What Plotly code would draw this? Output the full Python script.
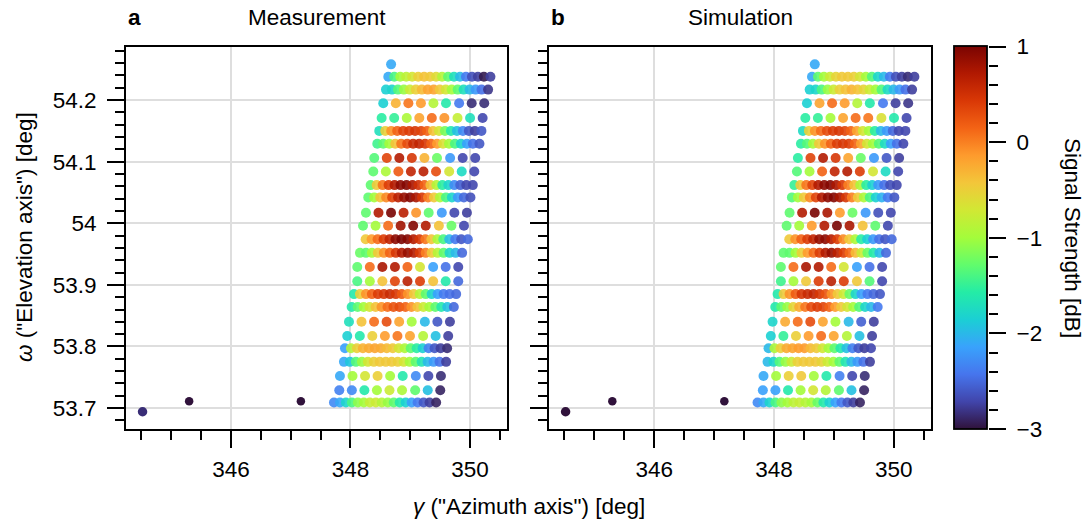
import plotly.graph_objects as go

W, H = 1086, 524

# ---------------- data ----------------
# scan rows, top to bottom
ROW_ELEV = [54.238, 54.217, 54.195, 54.171, 54.150, 54.129, 54.106, 54.084,
            54.062, 54.042, 54.017, 53.996, 53.974, 53.952, 53.929, 53.906,
            53.885, 53.864, 53.840, 53.817, 53.797, 53.775, 53.752, 53.729,
            53.709]
ROW_START = [348.633, 348.594, 348.549, 348.522, 348.482, 348.449, 348.398, 348.382,
             348.338, 348.298, 348.259, 348.210, 348.254, 348.159, 348.114, 348.114,
             348.059, 348.020, 347.975, 347.946, 347.908, 347.891, 347.824, 347.813,
             347.724]
ROW_KIND = ["D", "D", "S", "S", "D", "D", "S", "S", "D", "D", "S", "S", "D",
            "D", "S", "S", "D", "D", "S", "S", "D", "D", "S", "S", "D"]
DENSE_OFFSETS = [0.00, 0.10, 0.20, 0.30, 0.40, 0.50, 0.60, 0.70, 0.80,
                 0.90, 1.00, 1.10, 1.20, 1.30, 1.40, 1.50, 1.60, 1.71]
SPARSE_OFFSETS = [0.00, 0.21, 0.42, 0.63, 0.84, 1.05, 1.27, 1.48, 1.69]

MEAS = [
    [-2.1, -1.4, -1.0, -0.85, -0.7, -0.5, -0.4, -0.45, -0.6, -0.9, -1.3, -1.7, -2.0, -2.4, -2.65, -2.75, -2.95, -2.75],
    [-1.85, -1.8, -1.35, -1.05, -0.75, -0.5, -0.35, -0.2, -0.2, -0.45, -0.7, -1.0, -1.3, -1.7, -2.0, -2.2, -2.45, -2.8],
    [-1.85, -0.3, 0.05, -0.15, -0.9, -1.6, -2.4, -2.85, -2.85],
    [-1.55, -1.5, -0.95, -0.2, 0.1, -0.1, -0.8, -1.7, -2.7],
    [-1.7, -0.5, -0.1, 0.15, 0.35, 0.4, 0.45, 0.35, 0.15, -0.4, -0.7, -1.2, -1.6, -1.95, -2.3, -2.6, -2.75, -2.6],
    [-1.45, -1.3, -1.0, -0.4, 0.05, 0.3, 0.55, 0.6, 0.45, 0.15, -0.15, -0.65, -1.0, -1.4, -1.8, -2.15, -2.45, -2.6],
    [-1.35, 0.35, 0.7, 0.45, -0.3, -1.25, -2.2, -2.7, -2.7],
    [-1.3, -0.95, 0.2, 0.6, 0.65, 0.3, -0.7, -1.75, -2.7],
    [-1.3, -0.45, 0.05, 0.4, 0.7, 0.9, 0.95, 0.75, 0.5, 0.15, -0.4, -0.9, -1.55, -1.8, -2.3, -2.55, -2.7, -2.7],
    [-1.3, -1.0, -0.4, -0.05, 0.35, 0.65, 0.85, 0.95, 0.75, 0.45, 0.0, -0.45, -0.95, -1.4, -1.8, -2.2, -2.5, -2.65],
    [-1.3, 0.7, 1.0, 0.65, -0.1, -1.3, -2.2, -2.7, -2.75],
    [-1.3, -1.0, 0.1, 0.8, 0.95, 0.7, -0.4, -1.25, -2.7],
    [-0.45, -0.15, 0.1, 0.4, 0.6, 0.9, 1.0, 0.95, 0.7, 0.45, 0.05, -0.4, -0.95, -1.4, -2.0, -2.4, -2.6, -2.5],
    [-1.25, -1.3, -1.0, -0.45, -0.1, 0.15, 0.45, 0.7, 0.85, 0.7, 0.4, 0.0, -0.45, -0.9, -1.3, -1.8, -2.0, -2.5],
    [-1.3, 0.1, 0.75, 0.7, 0.15, -0.7, -2.15, -2.45, -2.7],
    [-1.4, -1.0, -0.4, 0.35, 0.65, 0.4, -0.4, -1.6, -2.5],
    [-1.6, -0.5, -0.1, 0.15, 0.4, 0.45, 0.55, 0.45, 0.2, -0.1, -0.45, -0.9, -1.3, -1.8, -2.15, -2.4, -2.45, -2.5],
    [-1.6, -1.3, -1.0, -0.7, -0.4, -0.1, 0.1, 0.25, 0.3, 0.15, -0.1, -0.4, -0.75, -1.0, -1.3, -1.6, -1.95, -2.5],
    [-1.7, -0.4, 0.1, 0.3, -0.2, -1.0, -2.0, -2.6, -2.75],
    [-1.85, -1.6, -0.5, -0.15, 0.05, -0.2, -0.9, -1.95, -2.75],
    [-2.15, -0.9, -0.5, -0.3, -0.25, -0.2, -0.25, -0.35, -0.45, -0.7, -0.95, -1.3, -1.55, -1.85, -2.35, -2.6, -2.75, -2.85],
    [-2.1, -1.9, -1.35, -1.05, -0.7, -0.5, -0.45, -0.45, -0.45, -0.5, -0.7, -1.0, -1.3, -1.65, -2.0, -2.2, -2.45, -2.75],
    [-2.1, -1.0, -0.7, -0.5, -1.0, -1.6, -2.3, -2.7, -2.85],
    [-2.35, -2.3, -1.6, -1.0, -0.75, -0.95, -1.3, -1.95, -2.9],
    [-2.3, -2.1, -1.8, -1.4, -1.1, -1.0, -0.8, -0.75, -0.9, -1.05, -1.3, -1.6, -1.85, -2.15, -2.4, -2.6, -2.75, -2.9],
]

SIM = [
    [-2.1, -1.3, -1.0, -0.75, -0.55, -0.45, -0.45, -0.5, -0.7, -1.0, -1.35, -1.8, -2.0, -2.4, -2.65, -2.75, -2.85, -2.75],
    [-1.85, -1.8, -1.4, -1.05, -0.75, -0.5, -0.4, -0.3, -0.4, -0.55, -0.75, -1.0, -1.35, -1.75, -2.0, -2.2, -2.45, -2.75],
    [-1.85, -0.2, 0.1, -0.15, -0.9, -1.6, -2.4, -2.75, -2.8],
    [-1.55, -1.5, -1.0, -0.2, 0.1, 0.05, -0.65, -1.6, -2.7],
    [-1.75, -0.5, -0.1, 0.1, 0.3, 0.4, 0.45, 0.35, 0.15, -0.2, -0.7, -1.0, -1.55, -2.0, -2.2, -2.5, -2.7, -2.7],
    [-1.55, -1.35, -1.0, -0.45, -0.1, 0.15, 0.4, 0.45, 0.4, 0.15, -0.2, -0.7, -1.0, -1.35, -1.75, -2.15, -2.45, -2.7],
    [-1.55, 0.35, 0.7, 0.45, -0.2, -1.25, -2.2, -2.6, -2.75],
    [-1.35, -1.0, 0.15, 0.6, 0.7, 0.4, -0.7, -1.75, -2.7],
    [-1.5, -0.45, 0.05, 0.35, 0.7, 0.9, 0.95, 0.75, 0.45, 0.0, -0.4, -0.95, -1.55, -1.85, -2.2, -2.45, -2.65, -2.7],
    [-1.35, -1.0, -0.45, -0.05, 0.35, 0.7, 0.9, 0.95, 0.75, 0.45, 0.0, -0.45, -0.95, -1.4, -1.85, -2.05, -2.4, -2.6],
    [-1.3, 0.7, 1.0, 0.75, -0.15, -1.25, -2.2, -2.65, -2.7],
    [-1.3, -1.0, -0.15, 0.7, 1.0, 0.75, -0.4, -1.3, -2.7],
    [-0.45, -0.1, 0.15, 0.4, 0.6, 0.85, 0.9, 0.7, 0.4, -0.05, -0.45, -0.95, -1.55, -1.85, -2.2, -2.45, -2.6, -2.5],
    [-1.3, -1.3, -1.0, -0.5, -0.15, 0.1, 0.4, 0.7, 0.85, 0.65, 0.4, 0.1, -0.35, -0.75, -1.25, -1.6, -2.0, -2.5],
    [-1.3, 0.1, 0.75, 0.7, 0.1, -0.7, -2.15, -2.45, -2.7],
    [-1.45, -1.0, -0.45, 0.4, 0.65, 0.4, -0.45, -1.35, -2.7],
    [-1.6, -0.45, -0.1, 0.2, 0.45, 0.55, 0.6, 0.45, 0.25, -0.1, -0.45, -0.75, -1.25, -1.8, -2.15, -2.4, -2.5, -2.6],
    [-1.6, -1.3, -1.05, -0.55, -0.25, 0.05, 0.3, 0.4, 0.35, 0.15, -0.15, -0.45, -0.7, -1.0, -1.35, -1.8, -2.0, -2.4],
    [-1.8, -0.25, 0.1, 0.3, -0.2, -1.0, -2.0, -2.55, -2.75],
    [-1.85, -1.5, -0.5, -0.15, 0.1, -0.2, -0.9, -1.95, -2.75],
    [-2.0, -0.95, -0.5, -0.25, -0.2, -0.15, -0.15, -0.35, -0.45, -0.7, -1.0, -1.3, -1.6, -1.95, -2.35, -2.6, -2.75, -2.7],
    [-2.0, -1.8, -1.35, -1.05, -0.75, -0.5, -0.45, -0.45, -0.45, -0.55, -0.75, -1.0, -1.3, -1.65, -2.0, -2.2, -2.45, -2.75],
    [-2.1, -1.0, -0.5, -0.45, -1.0, -1.6, -2.35, -2.7, -2.85],
    [-2.15, -2.15, -1.6, -1.0, -0.7, -0.9, -1.3, -1.95, -2.9],
    [-2.3, -2.1, -1.8, -1.4, -1.1, -1.0, -0.85, -0.8, -0.9, -1.0, -1.25, -1.6, -1.85, -2.15, -2.4, -2.6, -2.75, -2.9],
]

# isolated points
TOP_AZ = [348.68]
TOP_EL = [54.258]
TOP_MEAS = [-2.1]
TOP_SIM = [-2.1]
OUT_AZ = [344.52, 345.30, 347.17]
OUT_EL = [53.694, 53.711, 53.711]
OUT_MEAS = [-2.85, -3.0, -3.0]
OUT_SIM = [-3.0, -3.0, -3.0]

X_RANGE = [344.243, 350.62]
Y_RANGE = [53.666, 54.287]
C_RANGE = [-3, 1]

FONT = "Liberation Sans, Arial, Helvetica, sans-serif"
FS = 22.5


def grid_points(values):
    xs, ys, cs = [], [], []
    for elev, start, kind, row in zip(ROW_ELEV, ROW_START, ROW_KIND, values):
        offs = DENSE_OFFSETS if kind == "D" else SPARSE_OFFSETS
        for off, v in zip(offs, row):
            xs.append(start + off)
            ys.append(elev)
            cs.append(v)
    return xs, ys, cs


fig = go.Figure()

cbar = dict(
    x=954 / W, xanchor="left", y=(H - 429) / H, yanchor="bottom",
    len=(429 - 46.5) / H, lenmode="fraction", thickness=33, thicknessmode="pixels",
    xpad=0, ypad=0, outlinewidth=1.8, outlinecolor="black",
    ticks="", showticklabels=False,
)

for i, (vals, top, outv) in enumerate([(MEAS, TOP_MEAS, OUT_MEAS), (SIM, TOP_SIM, OUT_SIM)]):
    xa = "x" if i == 0 else "x2"
    ya = "y" if i == 0 else "y2"
    fig.add_trace(go.Scatter(
        x=OUT_AZ, y=OUT_EL, mode="markers", xaxis=xa, yaxis=ya,
        marker=dict(size=[9.5, 8.5, 8.5], color=outv, colorscale="Turbo", opacity=1,
                    cmin=C_RANGE[0], cmax=C_RANGE[1], line=dict(width=0)),
        showlegend=False, hoverinfo="skip"))
    gx, gy, gc = grid_points(vals)
    fig.add_trace(go.Scatter(
        x=gx + TOP_AZ, y=gy + TOP_EL, mode="markers", xaxis=xa, yaxis=ya,
        marker=dict(size=10, color=gc + top, colorscale="Turbo", opacity=0.9,
                    cmin=C_RANGE[0], cmax=C_RANGE[1], line=dict(width=0),
                    showscale=(i == 0), colorbar=cbar),
        showlegend=False, hoverinfo="skip"))

# dummy trace to carry the colorbar tick axis
fig.add_trace(go.Scatter(x=[None], y=[None], xaxis="x2", yaxis="y3",
                         showlegend=False, hoverinfo="skip"))

ydom = [(H - 429) / H, (H - 46.5) / H]
common_x = dict(
    range=X_RANGE, dtick=2, tick0=346, ticks="outside", ticklen=17, tickwidth=1.6,
    tickcolor="black", showline=True, linewidth=2, linecolor="black", mirror=True,
    showgrid=True, gridcolor="#dedede", gridwidth=1.5, zeroline=False,
    minor=dict(dtick=0.5, tick0=346, ticks="outside", ticklen=9, tickwidth=1.6,
               tickcolor="black", showgrid=False),
    tickfont=dict(family=FONT, size=FS, color="black"), ticklabelstandoff=2,
)
common_y = dict(
    range=Y_RANGE, dtick=0.1, tick0=53.7, ticks="outside", ticklen=17, tickwidth=1.6,
    tickcolor="black", showline=True, linewidth=2, linecolor="black", mirror=True,
    showgrid=True, gridcolor="#dedede", gridwidth=1.5, zeroline=False, domain=ydom,
    minor=dict(dtick=0.02, tick0=53.7, ticks="outside", ticklen=9, tickwidth=1.6,
               tickcolor="black", showgrid=False),
    tickfont=dict(family=FONT, size=FS, color="black"), ticklabelstandoff=6,
)

fig.update_layout(
    width=W, height=H, margin=dict(l=0, r=0, t=0, b=0, autoexpand=False),
    paper_bgcolor="white", plot_bgcolor="white",
    font=dict(family=FONT, size=FS, color="black"),
    xaxis=dict(common_x, domain=[126 / W, 507 / W], anchor="y"),
    xaxis2=dict(common_x, domain=[549 / W, 931 / W], anchor="y2"),
    yaxis=dict(common_y, anchor="x"),
    yaxis2=dict(common_y, anchor="x2", showticklabels=False),
    yaxis3=dict(range=C_RANGE, overlaying="y2", anchor="free", position=988 / W,
                side="right", dtick=1, tick0=-3, ticks="outside", ticklen=17,
                tickwidth=1.6, tickcolor="black", showline=False, showgrid=False,
                zeroline=False,
                minor=dict(dtick=0.2, tick0=-3, ticks="outside", ticklen=9,
                           tickwidth=1.6, tickcolor="black", showgrid=False),
                tickfont=dict(family=FONT, size=FS, color="black"), ticklabelstandoff=6),
)

ann = [
    dict(text="<b>a</b>", x=126 / W, y=(H - 17) / H, xanchor="left", yanchor="middle"),
    dict(text="Measurement", x=316.5 / W, y=(H - 17) / H, xanchor="center", yanchor="middle"),
    dict(text="<b>b</b>", x=549 / W, y=(H - 17) / H, xanchor="left", yanchor="middle"),
    dict(text="Simulation", x=740 / W, y=(H - 17) / H, xanchor="center", yanchor="middle"),
    dict(text='<i>γ</i> ("Azimuth axis") [deg]', x=529 / W, y=(H - 506) / H,
         xanchor="center", yanchor="middle"),
    dict(text='<i>ω</i> ("Elevation axis") [deg]', x=25 / W, y=(H - 237) / H,
         xanchor="center", yanchor="middle", textangle=-90),
    dict(text="Signal Strength [dB]", x=1073 / W, y=(H - 238) / H,
         xanchor="center", yanchor="middle", textangle=90),
]
for a in ann:
    a.update(xref="paper", yref="paper", showarrow=False,
             font=dict(family=FONT, size=FS, color="black"))
fig.update_layout(annotations=ann)

fig.write_html("out.html")
